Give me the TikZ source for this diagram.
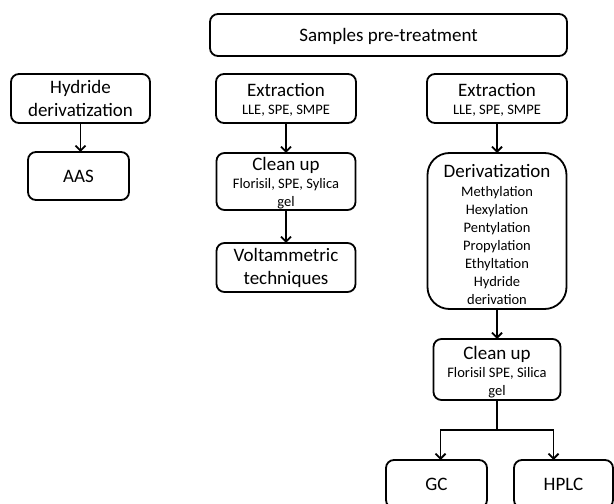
\documentclass[tikz,border=0pt]{standalone}
\usepackage{fontspec}
\setmainfont{Carlito}
\usetikzlibrary{positioning,arrows.meta}
\newcommand{\bigsz}{\fontsize{19}{23.2}\selectfont}
\newcommand{\smallsz}{\fontsize{14.5}{18}\selectfont}
\tikzset{%
  stageBox/.style={%
    rectangle,
    rounded corners=8pt,
    draw=black,
    line width=1.8pt,
    inner sep=0pt,
    outer sep=0pt,
    align=flush center,
    font=\bigsz
  },
  arrowLine/.style={%
    -{Straight Barb[length=5pt,width=10pt]},
    line width=1.8pt
  },
  plainLine/.style={%
    line width=1.8pt
  }
}

\begin{document}
\begin{tikzpicture}[x=1pt,y=1pt]
  \useasboundingbox (0,0) rectangle (614,504);
  \clip (0,0) rectangle (614,504);

  \node[stageBox, text width=357pt, text height=27.7pt, text depth=14.3pt] (pre) at (388.5,469) {Samples pre-treatment};

  % left branch
  \node[stageBox, text width=139pt, text height=19.3pt, text depth=29.7pt] (hyd) at (80.5,405.5) {Hydride\\derivatization};
  \node[stageBox, text width=101pt, text height=30.7pt, text depth=17.3pt, below=29pt of hyd, xshift=-2pt] (aas) {AAS};

  % middle branch
  \node[stageBox, text width=140pt, text height=22.7pt, text depth=26.3pt] (ext1) at (286,405.5) {Extraction\\{\smallsz LLE, SPE, SMPE\par}};
  \node[stageBox, text width=139pt, text height=17.7pt, text depth=39.3pt, below=30pt of ext1] (clean1) {Clean up\\{\smallsz Florisil, SPE, Sylica\\gel\par}};
  \node[stageBox, text width=139pt, text height=18.7pt, text depth=30.3pt, below=33pt of clean1] (volt) {Voltammetric\\techniques};

  % right branch
  \node[stageBox, text width=140pt, text height=22.7pt, text depth=26.3pt] (ext2) at (497,405.5) {Extraction\\{\smallsz LLE, SPE, SMPE\par}};
  \node[stageBox, rounded corners=22pt, text width=139pt, text height=24.3pt, text depth=131.7pt, below=30pt of ext2] (deriv) {Derivatization\\[1.5pt]{\smallsz Methylation\\Hexylation\\Pentylation\\Propylation\\Ethyltation\\Hydride\\derivation\par}};
  \node[stageBox, text width=127pt, text height=20.3pt, text depth=40.7pt, below=30pt of deriv] (clean2) {Clean up\\{\smallsz Florisil SPE, Silica\\gel\par}};
  \node[stageBox, text width=101pt, text height=31pt, text depth=17pt] (gc) at (436.5,20) {GC};
  \node[stageBox, text width=99pt, text height=31pt, text depth=17pt] (hplc) at (563.5,20) {HPLC};
  \coordinate[below=30pt of clean2] (fork);

  \draw[arrowLine] (hyd.south) -- (hyd.south |- aas.north);
  \draw[arrowLine] (ext1.south) -- (ext1.south |- clean1.north);
  \draw[arrowLine] (clean1.south) -- (clean1.south |- volt.north);
  \draw[arrowLine] (ext2.south) -- (ext2.south |- deriv.north);
  \draw[arrowLine] (deriv.south) -- (deriv.south |- clean2.north);
  \draw[plainLine] (clean2.south) -- (fork);
  \draw[arrowLine] (fork) -| ([xshift=4pt]gc.north);
  \draw[arrowLine] (fork) -| ([xshift=-10pt]hplc.north);
\end{tikzpicture}
\end{document}
